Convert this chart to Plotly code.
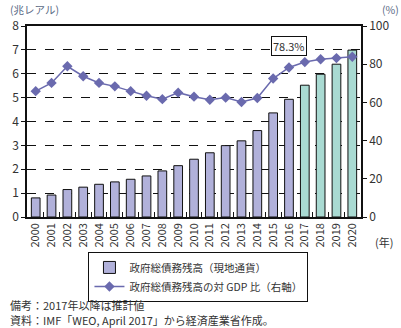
import plotly.graph_objects as go

years = [str(y) for y in range(2000, 2021)]
debt = [0.80, 0.92, 1.15, 1.25, 1.37, 1.47, 1.58, 1.72, 1.93, 2.15, 2.42,
        2.69, 2.99, 3.19, 3.62, 4.36, 4.93, 5.52, 5.98, 6.40, 6.99]
ratio = [65.9, 70.2, 78.9, 73.7, 70.2, 68.4, 65.9, 63.5, 61.7, 65.1, 63.0,
         61.4, 62.5, 60.2, 62.3, 72.5, 78.3, 81.1, 82.6, 83.2, 83.9]
est_from = "2017"
label_year = "2016"
label_text = "78.3%"

FONT = "Noto Sans CJK JP"
TXT = "#333333"
purple = "#b1b1da"
teal = "#a9dad2"
linec = "#6a6aae"

bar_colors = [teal if y >= est_from else purple for y in years]

fig = go.Figure()
fig.add_trace(go.Bar(
    x=years, y=debt, name="政府総債務残高（現地通貨）",
    marker=dict(color=bar_colors, line=dict(color="#111111", width=1)),
    width=0.55,
))
fig.add_trace(go.Scatter(
    x=years, y=ratio, yaxis="y2", mode="lines+markers",
    name="政府総債務残高の対 GDP 比（右軸）",
    line=dict(color=linec, width=1.5),
    marker=dict(symbol="diamond", size=8, color=linec),
))

fig.update_layout(
    width=401, height=328,
    margin=dict(l=25, r=34, t=26, b=111),
    paper_bgcolor="white", plot_bgcolor="white",
    font=dict(family=FONT, size=11, color=TXT),
    showlegend=True,
    legend=dict(
        x=0.184, y=-0.183, xanchor="left", yanchor="top",
        bordercolor="#111111", borderwidth=1,
        font=dict(size=10.5, color=TXT),
        tracegroupgap=0, itemwidth=30,
        bgcolor="white",
    ),
    xaxis=dict(
        type="category", range=[-0.55, 20.55],
        tickson="boundaries", ticks="inside", ticklen=5, tickcolor="#111111",
        tickangle=-90, tickfont=dict(size=11),
        showline=True, linecolor="#111111", linewidth=1.5,
        showgrid=False, mirror=True,
    ),
    yaxis=dict(
        range=[0, 8], dtick=1, ticks="outside", ticklen=4, tickcolor="#111111",
        showline=True, linecolor="#111111", linewidth=1.5,
        showgrid=True, gridcolor="#111111", griddash="dash", gridwidth=1,
        zeroline=False, tickfont=dict(size=12),
    ),
    yaxis2=dict(
        range=[0, 100], dtick=20, overlaying="y", side="right",
        ticks="outside", ticklen=4, tickcolor="#111111",
        showline=True, linecolor="#111111", linewidth=1.5,
        showgrid=False, zeroline=False, tickfont=dict(size=12),
    ),
    bargap=0.45,
)

fig.add_annotation(text="(兆レアル)", xref="paper", yref="paper",
                   x=-0.058, y=1.086, xanchor="left", yanchor="middle",
                   showarrow=False, font=dict(size=10.5, color="#5a6a85"))
fig.add_annotation(text="(%)", xref="paper", yref="paper",
                   x=1.088, y=1.086, xanchor="center", yanchor="middle",
                   showarrow=False, font=dict(size=10.5, color="#5a6a85"))
fig.add_annotation(text="(年)", xref="paper", yref="paper",
                   x=1.035, y=-0.13, xanchor="left", yanchor="middle",
                   showarrow=False, font=dict(size=11, color=TXT))
fig.add_annotation(text=label_text, x=years.index(label_year), xref="x",
                   yref="paper", y=0.895, xanchor="center", yanchor="middle",
                   showarrow=False, bgcolor="white", bordercolor="#111111",
                   borderwidth=1, borderpad=1, font=dict(size=11, color=TXT))
fig.add_annotation(text="備考：2017年以降は推計値", xref="paper", yref="paper",
                   x=-0.058, y=-0.46, xanchor="left", yanchor="middle",
                   showarrow=False, font=dict(size=11, color=TXT))
fig.add_annotation(text="資料：IMF「WEO, April 2017」から経済産業省作成。",
                   xref="paper", yref="paper",
                   x=-0.058, y=-0.537, xanchor="left", yanchor="middle",
                   showarrow=False, font=dict(size=11, color=TXT))

fig.write_html("out.html")
